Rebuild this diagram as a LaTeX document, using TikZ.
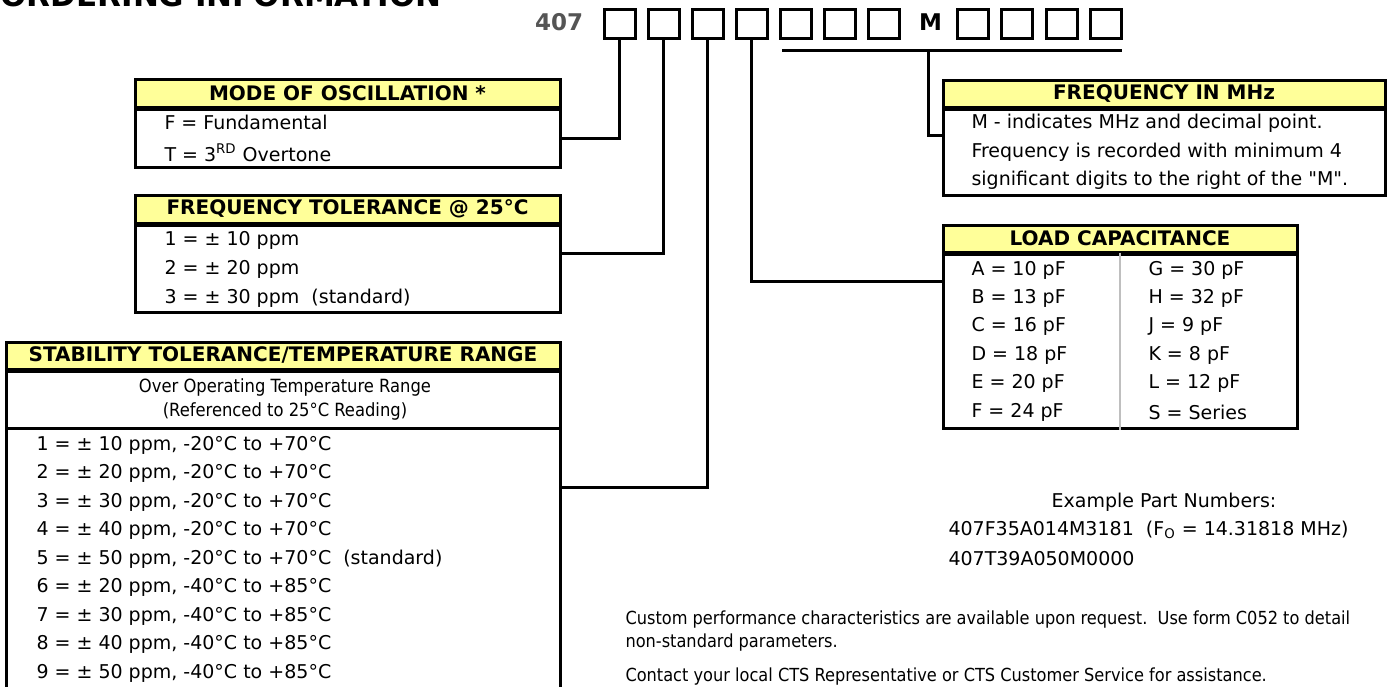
\documentclass[tikz,border=0pt]{standalone}
\usepackage{fontspec}
\setmainfont{DejaVu Sans}
\newfontfamily\narrowfont{DejaVu Sans Condensed}
\usetikzlibrary{positioning}
\definecolor{headfill}{HTML}{FFFF99}
\definecolor{rulegray}{HTML}{BFBFBF}
\definecolor{codegray}{HTML}{555555}

\begin{document}
\begin{tikzpicture}[x=0.5pt, y=-0.5pt, line width=1.5pt,
  every node/.style={inner sep=0pt, font=\fontsize{9.5}{11}\selectfont},
  digit/.style={draw, minimum width=15.5pt, minimum height=14.5pt},
  headbox/.style={draw, fill=headfill, font=\bfseries\fontsize{10}{12}\selectfont},
  bodybox/.style={draw, fill=white},
  item/.style={anchor=west},
  subnote/.style={font=\narrowfont\fontsize{9.1}{11}\selectfont},
  note/.style={anchor=west, font=\narrowfont\fontsize{9}{11}\selectfont}]
  \useasboundingbox (0,0) rectangle (1393,686);
  \clip (0,0) rectangle (1393,686);
  % title, cut by the page edge
  \node[anchor=base west, font=\bfseries\fontsize{15.5}{18}\selectfont] (title) at (-1,6) {ORDERING INFORMATION};
  % part number template
  \node[font=\bfseries\fontsize{11.5}{13}\selectfont, text=codegray] (prefix) at (559,22) {407};
  \foreach \i in {1,...,7}
    \node[digit] (d\i) at ({575.5+44*\i},23.5) {};
  \node[font=\bfseries\fontsize{11.5}{13}\selectfont] (mlabel) at (930.5,22) {M};
  \foreach \i in {8,...,11}
    \node[digit] (d\i) at ({928.5+44.4*(\i-7)},23.5) {};
  \coordinate (barL) at (782,50);
  \coordinate (barM) at (928.5,50);
  \coordinate (barR) at (1122,50);
  \draw (barL) -- (barR);

  % mode of oscillation
  \node[bodybox, minimum width=212.5pt, minimum height=29pt] (modebody) at (347.5,138) {};
  \node[headbox, minimum width=212.5pt, minimum height=14pt] (modehead) at (347.5,93) {MODE OF OSCILLATION *};
  \node[item] (mode1) at (163,122) {F = Fundamental};
  \node[item] (mode2) at (163,153) {T = 3\textsuperscript{RD} Overtone};

  % frequency tolerance
  \node[bodybox, minimum width=212.5pt, minimum height=43.5pt] (ftbody) at (347.5,268.5) {};
  \node[headbox, minimum width=212.5pt, minimum height=14pt] (fthead) at (347.5,209) {FREQUENCY TOLERANCE @ 25°C};
  \node[item] (ft1) at (163,240) {1 = ± 10 ppm};
  \node[item] (ft2) at (163,269) {2 = ± 20 ppm};
  \node[item] (ft3) at (163,298) {3 = ± 30 ppm~~(standard)};

  % stability tolerance / temperature range
  \node[bodybox, minimum width=277pt, minimum height=146pt] (stbody) at (283,574) {};
  \node[bodybox, minimum width=277pt, minimum height=28.5pt] (stsub) at (283,399.5) {};
  \node[headbox, minimum width=277pt, minimum height=13.5pt] (sthead) at (283,355.5) {STABILITY TOLERANCE/TEMPERATURE RANGE};
  \node[subnote] (stnote1) at (285,387) {Over Operating Temperature Range};
  \node[subnote] (stnote2) at (285,411) {(Referenced to 25°C Reading)};
  \foreach \txt [count=\i from 0] in {
      {1 = ± 10 ppm, -20°C to +70°C},
      {2 = ± 20 ppm, -20°C to +70°C},
      {3 = ± 30 ppm, -20°C to +70°C},
      {4 = ± 40 ppm, -20°C to +70°C},
      {5 = ± 50 ppm, -20°C to +70°C~~(standard)},
      {6 = ± 20 ppm, -40°C to +85°C},
      {7 = ± 30 ppm, -40°C to +85°C},
      {8 = ± 40 ppm, -40°C to +85°C},
      {9 = ± 50 ppm, -40°C to +85°C}}
    \node[item] (st\i) at (35,{445+28.5*\i}) {\txt};

  % frequency in MHz
  \node[bodybox, minimum width=221pt, minimum height=43pt] (fmbody) at (1164,152) {};
  \node[headbox, minimum width=221pt, minimum height=13.5pt] (fmhead) at (1164,93.5) {FREQUENCY IN MHz};
  \node[item] (fm1) at (970,123) {M - indicates MHz and decimal point.};
  \node[item] (fm2) at (970,152) {Frequency is recorded with minimum 4};
  \node[item] (fm3) at (970,180) {significant digits to the right of the \textquotedbl M\textquotedbl.};

  % load capacitance
  \node[bodybox, minimum width=177pt, minimum height=87pt] (lcbody) at (1120,341) {};
  \node[headbox, minimum width=177pt, minimum height=13.5pt] (lchead) at (1120,238.5) {LOAD CAPACITANCE};
  \draw[rulegray, line width=1pt] (lcbody.north) -- (lcbody.south);
  \foreach \ltxt/\rtxt [count=\i from 0] in {A = 10 pF/G = 30 pF, B = 13 pF/H = 32 pF,
      C = 16 pF/J = 9 pF, D = 18 pF/K = 8 pF, E = 20 pF/L = 12 pF, F = 24 pF/S = Series} {
    \node[item] (lcl\i) at (970,{270+28.4*\i}) {\ltxt};
    \node[item] (lcr\i) at (1147,{270+28.4*\i}) {\rtxt};
  }

  % connectors from the code boxes to the tables
  \coordinate (ftin) at (560,253);
  \coordinate (stin) at (560,487);
  \coordinate (lcin) at (943,281);
  \coordinate (fmin) at (943,135.5);
  \draw (d1.south) |- (modebody.east);
  \draw (d2.south) |- (ftin);
  \draw (d3.south) |- (stin);
  \draw (d4.south) |- (lcin);
  \draw (barM) |- (fmin);

  % examples and notes
  \node (exhead) at (1164,502) {Example Part Numbers:};
  \node[item] (ex1) at (947,530) {407F35A014M3181~~(F\textsubscript{O} = 14.31818 MHz)};
  \node[item] (ex2) at (947,559) {407T39A050M0000};
  \node[note] (note1) at (624,620) {Custom performance characteristics are available upon request.~~Use form C052 to detail};
  \node[note] (note2) at (624,643) {non-standard parameters.};
  \node[note] (note3) at (624,677) {Contact your local CTS Representative or CTS Customer Service for assistance.};
\end{tikzpicture}
\end{document}
